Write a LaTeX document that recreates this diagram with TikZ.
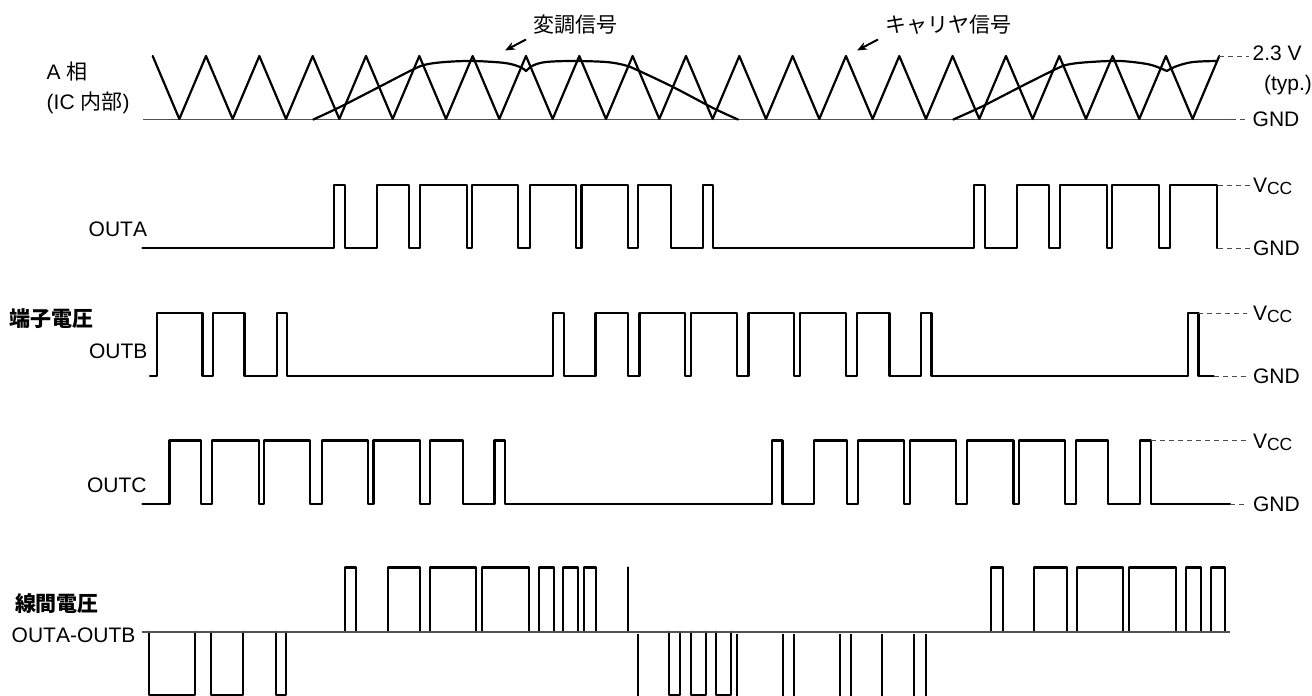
\documentclass[tikz,border=0pt]{standalone}
\usepackage{fontspec}
\setmainfont[Kerning=Off]{Liberation Sans}
\newfontfamily\cjk{Noto Sans CJK JP}
\usetikzlibrary{arrows.meta}
\newcommand{\jp}[1]{{\fontsize{21}{24}\selectfont\cjk #1}}
\newcommand{\jpb}[1]{{\fontsize{21}{24}\selectfont\cjk\bfseries #1}}
\newcommand{\vcc}{V\raisebox{-2pt}{\fontsize{17.5}{20}\selectfont CC}}
\tikzset{
  wave/.style={line width=2.2pt,line join=round,line cap=round,black},
  axis/.style={line width=1.6pt,draw=black!68},
  lead/.style={line width=1pt,draw=black!70,dash pattern=on 5pt off 4pt},
  pointer/.style={line width=2pt,-{Stealth[length=10pt,width=8pt]}},
  lbl/.style={anchor=base west,inner sep=0pt,outer sep=0pt,font=\fontsize{21}{24}\selectfont},
}
\begin{document}
\begin{tikzpicture}[x=1pt,y=-1pt]
\useasboundingbox (0,0) rectangle (1312,696);
% ---- A phase
\draw[axis] (143,119.5) -- (1231,119.5);
\draw[wave] (152.7,56) foreach \k in {0,...,19} { -- ({179.33+53.33*\k},119) -- ({206+53.33*\k},56) };
\draw[wave] plot[smooth,tension=.55] coordinates {(313.3,119.5) (340,107) (379,87) (413,69.5) (426,64.5) (445,62) (472.7,61) (505,63) (520,67) (526,71)};
\draw[wave] plot[smooth,tension=.55] coordinates {(526,71) (533,65.5) (546,62) (573,61) (606,62) (624,65) (636,69.5) (673,87) (713,108) (738,119.5)};
\draw[wave] plot[smooth,tension=.55] coordinates {(953.3,119.5) (983,106) (1020,87) (1055,69.5) (1068,64.5) (1090,62) (1120,61) (1147,64) (1160,68) (1166.7,71)};
\draw[wave] plot[smooth,tension=.55] coordinates {(1166.7,71) (1177,66) (1193,62) (1217,61)};
\draw[lead] (1219,56) -- (1249,56);
\draw[lead] (1231,119.5) -- (1247,119.5);
\coordinate (p1s) at (526,39.5); \coordinate (p1e) at (505,50.5);
\coordinate (p2s) at (878,39.5); \coordinate (p2e) at (857,50.5);
\draw[pointer] (p1s) -- (p1e);
\draw[pointer] (p2s) -- (p2e);
\node[lbl] (mod) at (533,32) {\jp{変調信号}};
\node[lbl] (car) at (885,32) {\jp{キャリヤ信号}};
\node[lbl] (aphase) at (46.7,79) {A \jp{相}};
\node[lbl] (ic) at (46.7,109) {(IC \jp{内部})};
\node[lbl] (v23) at (1252.7,60.5) {2.3 V};
\node[lbl] (typ) at (1264,90.5) {(typ.)};
\node[lbl] (g0) at (1252.7,126.5) {GND};
% ---- OUTA
\def\hi{185}\def\lo{248}
\draw[wave] (142.5,\lo) foreach \a/\b in {333.9/345,376.6/409,420/466.7,472/518,530/575.9,581.4/628,638.3/670.7,702.7/713,974/985,1016.6/1049,1060/1106.8,1112/1159,1170/1216.7} { -- (\a,\lo) -- (\a,\hi) -- (\b,\hi) -- (\b,\lo) };
\draw[lead] (1218,\hi) -- (1250,\hi);
\draw[lead] (1218,\lo) -- (1250,\lo);
\node[lbl] (outa) at (88.7,236.5) {OUTA};
\node[lbl] (va) at (1253,192.5) {\vcc};
\node[lbl] (ga) at (1253,255.5) {GND};
% ---- OUTB
\def\hi{313}\def\lo{376}
\draw[wave] (150,\lo) -- (156.6,\lo) -- (156.6,\hi) -- (202.5,\hi) -- (202.5,\lo) foreach \a/\b in {212.7/244.4,276.8/287,552.8/563.9,595.5/627.9,639.5/685,691/736.8,748.4/794,800/845.7,857.3/889.5,920.7/931.4,1187.7/1198.4} { -- (\a,\lo) -- (\a,\hi) -- (\b,\hi) -- (\b,\lo) } -- (1213.6,\lo);
\draw[lead] (1198.4,\hi) -- (1247,\hi);
\draw[lead] (1213.6,\lo) -- (1247,\lo);
\node[lbl] (tv) at (9.5,326) {\jpb{端子電圧}};
\node[lbl] (outb) at (89,358.5) {OUTB};
\node[lbl] (vb) at (1253,320.5) {\vcc};
\node[lbl] (gb) at (1253,383.5) {GND};
% ---- OUTC
\def\hi{440.5}\def\lo{504}
\draw[wave] (142.5,\lo) foreach \a/\b in {169.4/201,212/258.7,264/310,322/367.9,373.4/420,430/462.7,494.4/504.7,772/782.5,814/846.6,857.7/904.3,909.8/955.7,966.8/1013.4,1019/1064.8,1076/1108,1140/1151} { -- (\a,\lo) -- (\a,\hi) -- (\b,\hi) -- (\b,\lo) } -- (1230,\lo);
\draw[lead] (1151,\hi) -- (1246,\hi);
\draw[lead] (1230,\lo) -- (1246,\lo);
\node[lbl] (outc) at (87,492.5) {OUTC};
\node[lbl] (vc) at (1253,448) {\vcc};
\node[lbl] (gc) at (1253,511.5) {GND};
% ---- Line voltage
\def\base{631.7}\def\top{567.5}\def\bot{694.8}
\foreach \a/\b in {345/355.7,387.7/420,430/476,481.7/528.7,539/554,563.3/578.3,584.3/595.7,991/1002.7,1034/1066.7,1076.7/1123.3,1128.7/1175.7,1186/1200.7,1210.7/1225.3}
  \draw[wave] (\a,\base) -- (\a,\top) -- (\b,\top) -- (\b,\base);
\foreach \a/\b in {149.3/195.3,211.3/243.3,275.7/286,669.3/680.3,691/706.3,716/731}
  \draw[wave] (\a,\base) -- (\a,\bot) -- (\b,\bot) -- (\b,\base);
\draw[wave] (627.7,\base) -- (627.7,\top);
\foreach \a in {638.3,736.7,782.7,794,840,850.7,882.3,914.3,925.7}
  \draw[wave,line cap=butt] (\a,633.5) -- (\a,696);
\draw[axis] (141.7,\base) -- (1230,\base);
\node[lbl] (lv) at (15,611) {\jpb{線間電圧}};
\node[lbl] (ab) at (11.7,642.5) {OUTA-OUTB};
\end{tikzpicture}
\end{document}
